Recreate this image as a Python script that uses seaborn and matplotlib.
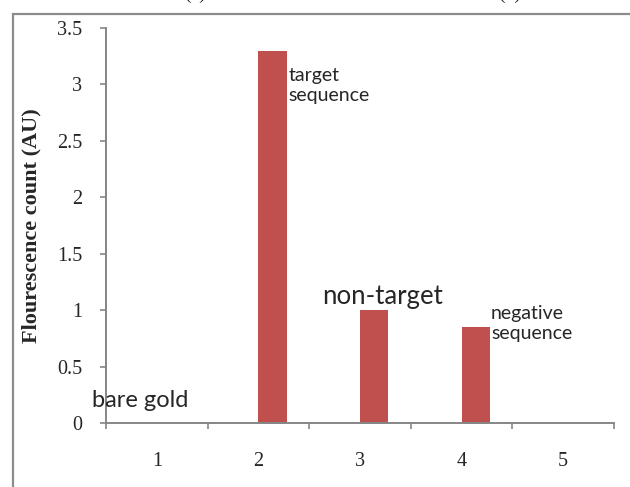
import matplotlib
matplotlib.use("Agg")
import matplotlib.pyplot as plt
import seaborn as sns
import pandas as pd
from matplotlib.patches import Rectangle
from matplotlib.ticker import FixedLocator

# Sample positions and fluorescence readings
samples = ["1", "2", "3", "4", "5"]
fluorescence = [0.0, 3.3, 1.0, 0.85, 0.0]
blank_series = [0.0, 0.0, 0.0, 0.0, 0.0]
y_ticks = [0, 0.5, 1, 1.5, 2, 2.5, 3, 3.5]
y_tick_labels = ["0", "0.5", "1", "1.5", "2", "2.5", "3", "3.5"]

df = pd.DataFrame({
    "sample": samples * 2,
    "value": blank_series + fluorescence,
    "series": ["blank"] * 5 + ["signal"] * 5,
})

sns.set_style("white")
plt.rcParams["font.family"] = ["Liberation Serif", "DejaVu Serif"]

fig = plt.figure(figsize=(6.30, 4.87), dpi=100)
ax = fig.add_axes([106 / 630, 1 - 423 / 487, (614 - 106) / 630, (423 - 28) / 487])

BAR = "#C0504D"
GRID = "#868686"

sns.barplot(data=df, x="sample", y="value", hue="series",
            palette={"blank": BAR, "signal": BAR}, width=0.56,
            saturation=1, linewidth=0, errorbar=None, legend=False, ax=ax)

ax.set_xlim(-0.5, 4.5)
ax.set_ylim(0, 3.5)
ax.set_yticks(y_ticks)
ax.set_yticklabels(y_tick_labels)
ax.set_xlabel("")
ax.set_ylabel("Flourescence count (AU)", fontsize=16, fontweight="bold",
              family=["Liberation Serif"], labelpad=11)

for side in ("top", "right"):
    ax.spines[side].set_visible(False)
for side in ("left", "bottom"):
    ax.spines[side].set_color(GRID)
    ax.spines[side].set_linewidth(1.4)

ax.tick_params(axis="y", direction="out", length=4.3, width=1.2, color=GRID,
               labelsize=14.5, pad=13, left=True)
ax.xaxis.set_minor_locator(FixedLocator([-0.5, 0.5, 1.5, 2.5, 3.5, 4.5]))
ax.tick_params(axis="x", which="minor", direction="out", length=4.5, width=1.2,
               color=GRID, bottom=True)
ax.tick_params(axis="x", which="major", length=0, labelsize=14.5, pad=21)

# Sample annotations
sans = ["Lato", "DejaVu Sans"]
ax.text(-0.64, 0.20, "bare gold", fontsize=17, family=sans,
        ha="left", va="center", clip_on=False)
ax.text(1.30, 2.99, "target\nsequence", fontsize=14, family=sans,
        ha="left", va="center", linespacing=1.2)
ax.text(1.63, 1.12, "non-target", fontsize=18.5, family=sans,
        ha="left", va="center")
ax.text(3.29, 0.88, "negative\nsequence", fontsize=14, family=sans,
        ha="left", va="center", linespacing=1.2)

# Panel frame and panel letters
fig.patches.append(Rectangle((13 / 630, -0.1), 1.2, 1 - 14 / 487 + 0.1,
                             transform=fig.transFigure, fill=False,
                             edgecolor="#8C8C8C", linewidth=1.6))
fig.text(195 / 630, 1 - 3 / 487, "(a)", fontsize=14, ha="center", va="bottom")
fig.text(510 / 630, 1 - 3 / 487, "(b)", fontsize=14, ha="center", va="bottom")

fig.savefig("out.png", dpi=100)
